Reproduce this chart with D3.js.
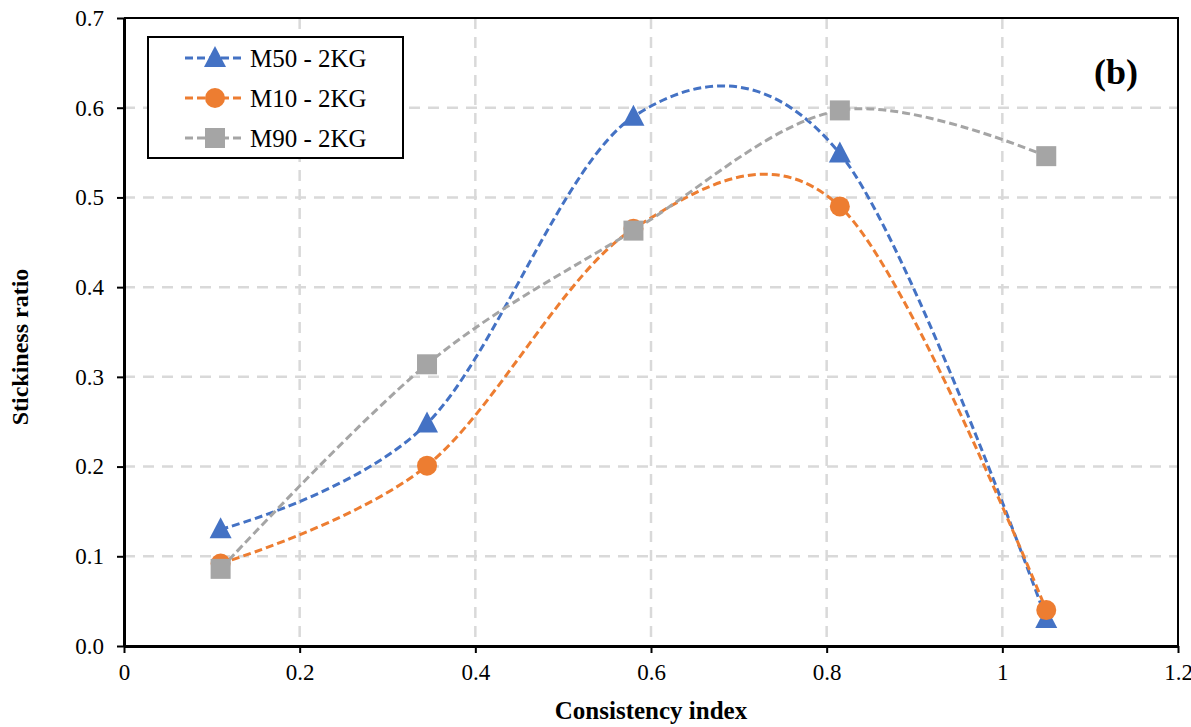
<!DOCTYPE html>
<html>
<head>
<meta charset="utf-8">
<script src="https://cdn.jsdelivr.net/npm/d3@7"></script>
<style>
    body { margin: 0; background: #fff; }
    svg { display: block; font-family: "Liberation Serif", "Times New Roman", serif; }
    .grid line { stroke: #d9d9d9; stroke-width: 2.5; stroke-dasharray: 11,8; }
    .axis path, .axis line { stroke: #000; }
    .axis text { font-size: 23px; fill: #000; font-family: "Liberation Serif", serif; }
</style>
</head>
<body>
<svg id="chart" width="1191" height="727"></svg>
<script>
// data
var consistency = [0.11, 0.345, 0.58, 0.815, 1.05];
var m50 = [0.13, 0.248, 0.59, 0.549, 0.03];
var m10 = [0.092, 0.201, 0.465, 0.49, 0.04];
var m90 = [0.086, 0.314, 0.463, 0.597, 0.546];
var seriesNames = ['M50 - 2KG', 'M10 - 2KG', 'M90 - 2KG'];
var xTicks = [0, 0.2, 0.4, 0.6, 0.8, 1, 1.2];
var yTicks = [0, 0.1, 0.2, 0.3, 0.4, 0.5, 0.6, 0.7];

var series = [
    {name: seriesNames[0], values: m50, color: '#4472c4', marker: 'triangle'},
    {name: seriesNames[1], values: m10, color: '#ed7d31', marker: 'circle'},
    {name: seriesNames[2], values: m90, color: '#a5a5a5', marker: 'square'}
];

var plotLeft = 124, plotRight = 1178, plotTop = 18, plotBottom = 646;

var svg = d3.select('svg#chart');

var x = d3.scaleLinear().domain([0, 1.2]).range([plotLeft, plotRight]);
var y = d3.scaleLinear().domain([0, 0.7]).range([plotBottom, plotTop]);

// grid
var grid = svg.append('g').classed('grid', true);
grid.selectAll('line.v')
    .data(xTicks.slice(1, -1))
    .enter().append('line')
    .attr('x1', d => x(d)).attr('x2', d => x(d))
    .attr('y1', plotTop).attr('y2', plotBottom);
grid.selectAll('line.h')
    .data(yTicks.slice(1, -1))
    .enter().append('line')
    .attr('x1', plotLeft).attr('x2', plotRight)
    .attr('y1', d => y(d)).attr('y2', d => y(d));

// frame (top + right)
svg.append('path')
    .attr('d', 'M' + plotLeft + ',' + plotTop + 'H' + plotRight + 'V' + plotBottom)
    .attr('fill', 'none')
    .attr('stroke', '#000')
    .attr('stroke-width', 2);

var xAxis = d3.axisBottom(x)
    .tickValues(xTicks)
    .tickFormat(d3.format('~g'))
    .tickSizeInner(7)
    .tickSizeOuter(0)
    .tickPadding(11);

var yAxis = d3.axisLeft(y)
    .tickValues(yTicks)
    .tickFormat(d3.format('.1f'))
    .tickSizeInner(7)
    .tickSizeOuter(0)
    .tickPadding(13);

var gX = svg.append('g').classed('axis', true)
    .attr('transform', 'translate(0,' + plotBottom + ')')
    .call(xAxis);
var gY = svg.append('g').classed('axis', true)
    .attr('transform', 'translate(' + plotLeft + ',0)')
    .call(yAxis);

gX.select('path.domain').attr('stroke-width', 3);
gX.selectAll('.tick line').attr('stroke-width', 2);
gY.select('path.domain').attr('stroke-width', 3);
gY.selectAll('.tick line').attr('stroke-width', 2);

// axis titles
svg.append('text')
    .attr('x', (plotLeft + plotRight) / 2)
    .attr('y', 719)
    .attr('text-anchor', 'middle')
    .attr('font-size', 25)
    .attr('font-weight', 'bold')
    .text('Consistency index');

svg.append('text')
    .attr('transform', 'translate(28,' + 347 + ') rotate(-90)')
    .attr('text-anchor', 'middle')
    .attr('font-size', 24)
    .attr('font-weight', 'bold')
    .text('Stickiness ratio');

svg.append('text')
    .attr('x', 1116)
    .attr('y', 84)
    .attr('text-anchor', 'middle')
    .attr('font-size', 36)
    .attr('font-weight', 'bold')
    .text('(b)');

var valueline = d3.line()
    .curve(d3.curveCardinal.tension(0))
    .x((d, i) => x(consistency[i]))
    .y(d => y(d));

function drawMarker(sel, kind, color) {
    if (kind === 'circle') {
        sel.append('circle').attr('r', 10).attr('fill', color);
    } else if (kind === 'square') {
        sel.append('rect').attr('x', -10).attr('y', -10)
            .attr('width', 20).attr('height', 20).attr('fill', color);
    } else {
        sel.append('path').attr('d', 'M0,-12L11,9L-11,9Z').attr('fill', color);
    }
}

var plot = svg.append('g');

series.forEach(function(s) {
    plot.append('path')
        .attr('d', valueline(s.values))
        .attr('fill', 'none')
        .attr('stroke', s.color)
        .attr('stroke-width', 3)
        .attr('stroke-dasharray', '8,4');
});

series.forEach(function(s) {
    var pts = plot.selectAll('g.pt-' + s.marker)
        .data(s.values)
        .enter().append('g')
        .attr('class', 'pt-' + s.marker)
        .attr('transform', (d, i) => 'translate(' + x(consistency[i]) + ',' + y(d) + ')');
    drawMarker(pts, s.marker, s.color);
});

// legend
var legend = svg.append('g');
legend.append('rect')
    .attr('x', 148).attr('y', 37)
    .attr('width', 255).attr('height', 121)
    .attr('fill', '#fff')
    .attr('stroke', '#000')
    .attr('stroke-width', 2);

var item = legend.selectAll('g.item')
    .data(series)
    .enter().append('g')
    .attr('class', 'item')
    .attr('transform', (d, i) => 'translate(0,' + (58 + i * 40) + ')');

item.append('line')
    .attr('x1', 185).attr('x2', 245)
    .attr('stroke', d => d.color)
    .attr('stroke-width', 3)
    .attr('stroke-dasharray', '8,4');

item.each(function(d) {
    var g = d3.select(this).append('g').attr('transform', 'translate(215,0)');
    drawMarker(g, d.marker, d.color);
});

item.append('text')
    .attr('x', 250)
    .attr('y', 9)
    .attr('font-size', 25)
    .text(d => d.name);
</script>
</body>
</html>
